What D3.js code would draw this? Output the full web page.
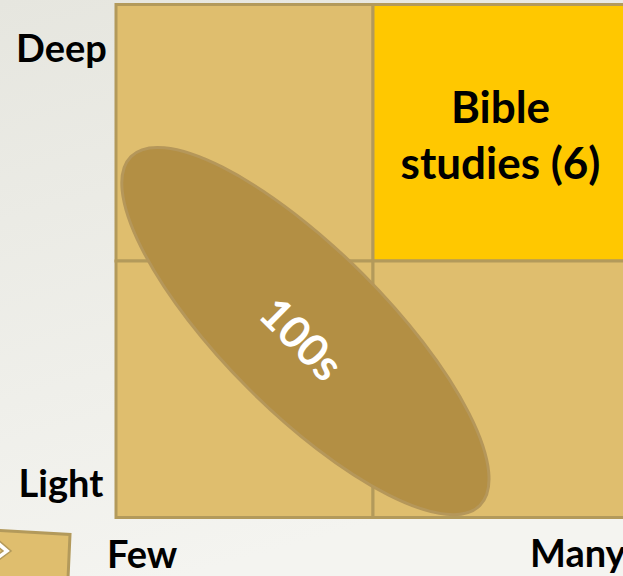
<!DOCTYPE html>
<html>
<head>
<meta charset="utf-8">
<script src="https://cdn.jsdelivr.net/npm/d3@7"></script>
<style>
  html, body { margin: 0; padding: 0; overflow: hidden; }
  svg { display: block; }
  text { font-family: Lato, "Open Sans", sans-serif; font-weight: bold; }
</style>
</head>
<body>
<script>
// ---- data ----
const columns = ["Few", "Many"];          // breadth (x)
const rows = ["Deep", "Light"];           // depth (y), top to bottom
const cellRow = ["Deep", "Deep", "Light", "Light"];
const cellCol = ["Few", "Many", "Few", "Many"];
const cellLabel = ["", "Bible studies (6)", "", ""];
const cellHighlight = [false, true, false, false];
// ellipse in continuous grid units (0..2 across, 0..2 up)
const blobLabel = "100s";
const blobCenter = [0.737, 0.727];
const blobAxes = [0.96, 0.315];
const blobAngle = 45;

(function () {
const W = 623, H = 576;
const svg = d3.select("body").append("svg").attr("width", W).attr("height", H);

const defs = svg.append("defs");
const grad = defs.append("linearGradient").attr("id", "bg")
  .attr("x1", 0).attr("y1", 0).attr("x2", 0.3).attr("y2", 1);
grad.append("stop").attr("offset", "0%").attr("stop-color", "#e6e6df");
grad.append("stop").attr("offset", "100%").attr("stop-color", "#f4f4f0");
svg.append("rect").attr("width", W).attr("height", H).attr("fill", "url(#bg)");

const gLeft = 116, gRight = 630, gTop = 4.5, gBottom = 517.5;
const x = d3.scaleBand().domain(columns).range([gLeft, gRight]);
const y = d3.scaleBand().domain(rows).range([gTop, gBottom]);
const xc = d3.scaleLinear().domain([0, 2]).range([gLeft, gRight]);
const yc = d3.scaleLinear().domain([0, 2]).range([gBottom, gTop]);

const stroke = "#b39a5b";
const cells = d3.range(cellRow.length).map(i => ({
  row: cellRow[i], col: cellCol[i], label: cellLabel[i], hi: cellHighlight[i]
}));

svg.append("g").selectAll("rect").data(cells).join("rect")
  .attr("x", d => x(d.col)).attr("y", d => y(d.row))
  .attr("width", x.bandwidth()).attr("height", y.bandwidth())
  .attr("fill", d => d.hi ? "#ffc800" : "#dfbe6e")
  .attr("stroke", stroke).attr("stroke-width", 3);

// ellipse
const cx = xc(blobCenter[0]), cy = yc(blobCenter[1]);
const rx = xc(blobAxes[0]) - xc(0), ry = xc(blobAxes[1]) - xc(0);
const blob = svg.append("g").attr("transform", `translate(${cx},${cy}) rotate(${blobAngle})`);
blob.append("ellipse").attr("rx", rx).attr("ry", ry)
  .attr("fill", "#b38f44").attr("stroke", "#b5975a").attr("stroke-width", 3);
svg.append("text")
  .attr("transform", `translate(${cx - 3},${cy + 7}) rotate(${blobAngle})`)
  .attr("text-anchor", "middle").attr("dominant-baseline", "central")
  .attr("fill", "#ffffff").attr("font-size", 44).text(blobLabel);

// cell labels
cells.filter(d => d.label).forEach(d => {
  const words = d.label.split(" ");
  const lines = [words[0], words.slice(1).join(" ")];
  const t = svg.append("text").attr("text-anchor", "middle").attr("font-size", 44).attr("fill", "#000");
  lines.forEach((ln, j) => {
    t.append("tspan").attr("x", x(d.col) + x.bandwidth() / 2 - 1)
      .attr("y", y(d.row) + 118 + j * 56).text(ln);
  });
});

// axis labels
svg.append("text").attr("x", 61.5).attr("y", 62).attr("text-anchor", "middle")
  .attr("font-size", 38).attr("fill", "#000").text(rows[0]);
svg.append("text").attr("x", 61).attr("y", 497).attr("text-anchor", "middle")
  .attr("font-size", 38).attr("fill", "#000").text(rows[1]);
svg.append("text").attr("x", 107).attr("y", 568).attr("text-anchor", "start")
  .attr("font-size", 38).attr("fill", "#000").text(columns[0]);
svg.append("text").attr("x", 530).attr("y", 567).attr("text-anchor", "start")
  .attr("font-size", 38).attr("fill", "#000").text(columns[1]);

// decorative arrow tab at bottom-left
svg.append("polygon")
  .attr("points", "-10,530 70,534.5 67.5,590 -10,590")
  .attr("fill", "#dfbe6e").attr("stroke", stroke).attr("stroke-width", 3);
svg.append("polygon")
  .attr("points", "-4,538 11,551 -4,562 -4,556 3,551 -4,545")
  .attr("fill", "#ffffff").attr("stroke", stroke).attr("stroke-width", 1.5);
})();
</script>
</body>
</html>
